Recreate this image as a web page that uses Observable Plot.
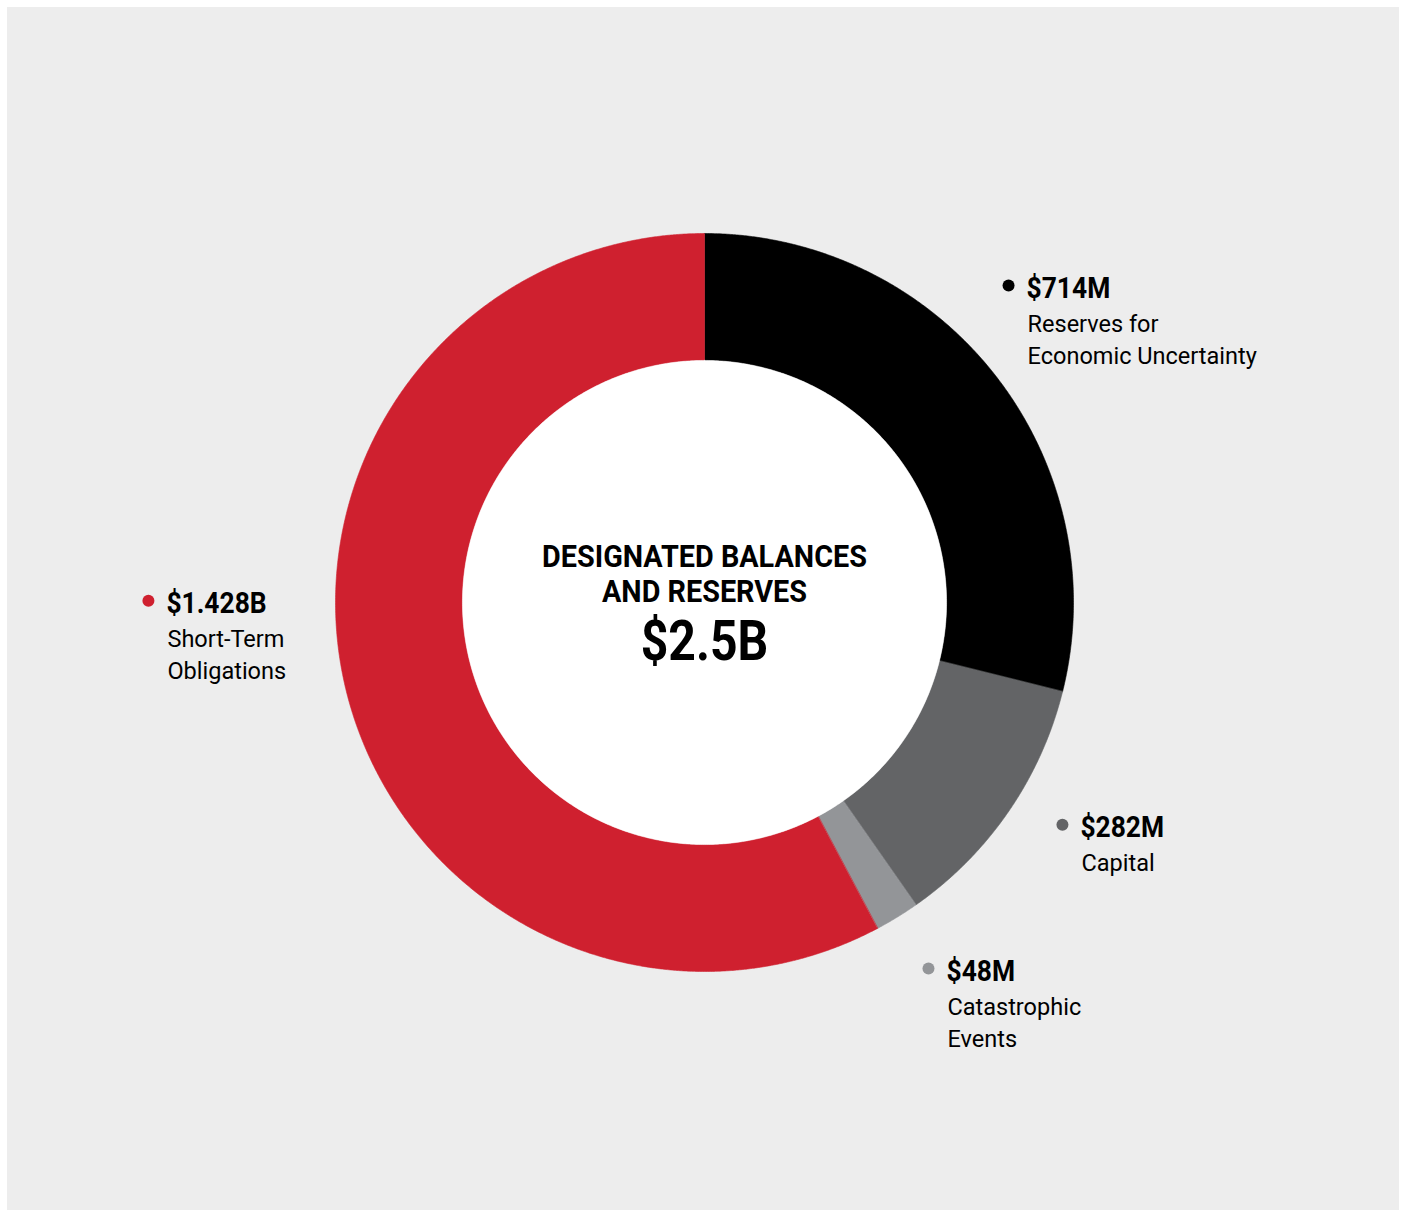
<!DOCTYPE html>
<html>
<head>
<meta charset="utf-8">
<script src="https://cdn.jsdelivr.net/npm/d3@7"></script>
<script src="https://cdn.jsdelivr.net/npm/@observablehq/plot@0.6"></script>
<style>
  html, body { margin: 0; padding: 0; background: #ffffff; }
  #wrap { padding: 7px 0 0 7px; }
  svg { display: block; }
</style>
</head>
<body>
<div id="wrap"></div>
<script>
// ---- Data ----
const categories = ["Reserves for\nEconomic Uncertainty", "Capital", "Catastrophic\nEvents", "Short-Term\nObligations"];
const values = [714, 282, 48, 1428];          // $ millions
const valueLabels = ["$714M", "$282M", "$48M", "$1.428B"];
const colors = ["#000000", "#636466", "#939598", "#cf202f"];
const centerTitle = "DESIGNATED BALANCES\nAND RESERVES";
const centerValue = "$2.5B";

// ---- Layout (not data) ----
const W = 1392, H = 1203;
const cxPx = 697, cyPx = 595, Rpx = 369;
const innerRatio = 0.656;
// label dot anchors, in units of outer radius relative to centre
const labelAt = [[0.824, 0.859], [0.970, -0.602], [0.607, -0.992], [-1.507, 0.005]];
const FONT = "Roboto, 'Liberation Sans', 'DejaVu Sans', sans-serif";

// ---- Build slices from values ----
const pie = d3.pie().sort(null).value(d => d)(values);
function ring(a0, a1, r0, r1) {
  const pts = [];
  const n = Math.max(2, Math.ceil((a1 - a0) / (Math.PI / 720)));
  for (let i = 0; i <= n; i++) {
    const a = a0 + (a1 - a0) * i / n;
    pts.push({x: r1 * Math.sin(a), y: r1 * Math.cos(a)});
  }
  for (let i = n; i >= 0; i--) {
    const a = a0 + (a1 - a0) * i / n;
    pts.push({x: r0 * Math.sin(a), y: r0 * Math.cos(a)});
  }
  return pts;
}
const sliceMarks = pie.map((p, i) =>
  Plot.line(ring(p.startAngle, p.endAngle, innerRatio, 1), {
    x: "x", y: "y", fill: colors[i], stroke: colors[i], strokeWidth: 0.6, curve: "linear-closed"
  })
);
// white centre disc
const disc = [];
for (let i = 0; i <= 720; i++) { const a = i / 720 * 2 * Math.PI; disc.push({x: innerRatio * Math.sin(a), y: innerRatio * Math.cos(a)}); }

const labels = values.map((v, i) => ({
  x: labelAt[i][0], y: labelAt[i][1], value: valueLabels[i], name: categories[i], color: colors[i]
}));

const chart = Plot.plot({
  width: W, height: H,
  margin: 0,
  style: {background: "#ededed", fontFamily: FONT},
  x: {domain: [-cxPx / Rpx, (W - cxPx) / Rpx], range: [0, W], axis: null},
  y: {domain: [-(H - cyPx) / Rpx, cyPx / Rpx], range: [H, 0], axis: null},
  marks: [
    ...sliceMarks,
    Plot.line(disc, {x: "x", y: "y", fill: "white", stroke: "white", strokeWidth: 0.5, curve: "linear-closed"}),
    Plot.dot(labels, {x: "x", y: "y", r: 6, fill: "color", stroke: null}),
    Plot.text(labels, {x: "x", y: "y", text: "value", dx: 18, dy: 3, textAnchor: "start",
      fontSize: 30, fontWeight: "bold", fill: "#000", fontFamily: FONT, className: "cond88"}),
    Plot.text(labels, {x: "x", y: "y", text: "name", dx: 19, dy: 24, lineAnchor: "top", lineHeight: 1.33,
      textAnchor: "start", fontSize: 24, fill: "#000", fontFamily: FONT, className: "cond98"}),
    Plot.text([0], {x: 0, y: 0, text: [centerTitle], dy: -29, lineHeight: 1.1, fontSize: 32,
      fontWeight: "bold", fill: "#000", fontFamily: FONT, className: "cond90"}),
    Plot.text([0], {x: 0, y: 0, text: [centerValue], dy: 40, fontSize: 56, fontWeight: "bold",
      fill: "#000", fontFamily: FONT, className: "cond86"})
  ]
});
// condense the type horizontally, like the reference's condensed face
[["cond88", 0.88], ["cond98", 0.98], ["cond90", 0.9], ["cond86", 0.86]].forEach(([c, s]) => {
  d3.select(chart).selectAll("." + c + " text").each(function () {
    const t = this.getAttribute("transform") || "";
    this.setAttribute("transform", t + ` scale(${s},1)`);
  });
});
document.getElementById("wrap").appendChild(chart);
</script>
</body>
</html>
